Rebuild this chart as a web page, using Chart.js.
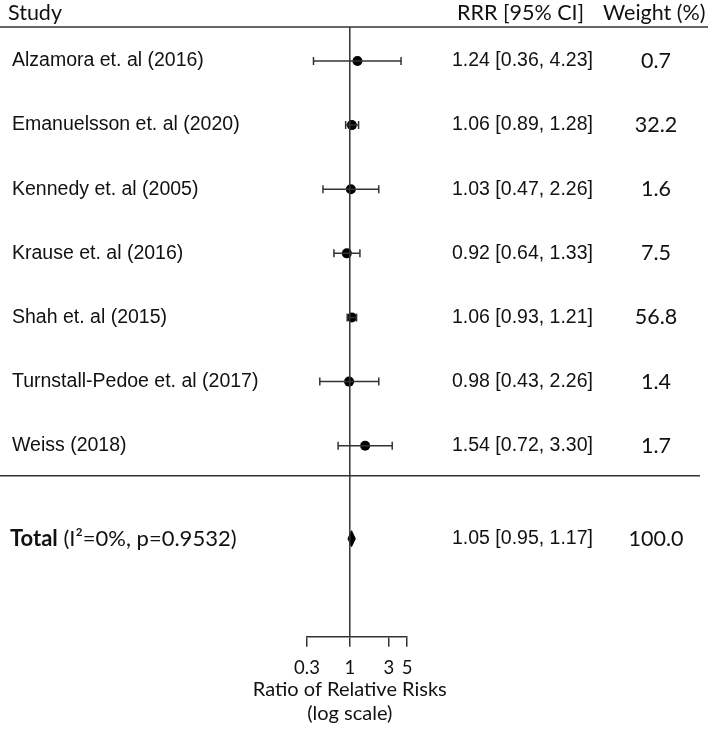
<!DOCTYPE html>
<html>
<head>
<meta charset="utf-8">
<script src="https://cdn.jsdelivr.net/npm/chart.js@4/dist/chart.umd.min.js"></script>
<style>
  html, body { margin: 0; padding: 0; background: #fff; }
  #wrap { width: 708px; height: 748px; position: relative; }
</style>
</head>
<body>
<div id="wrap"><canvas id="c"></canvas></div>
<script>
// ---- data ----
const studies = [
  'Alzamora et. al (2016)',
  'Emanuelsson et. al (2020)',
  'Kennedy et. al (2005)',
  'Krause et. al (2016)',
  'Shah et. al (2015)',
  'Turnstall-Pedoe et. al (2017)',
  'Weiss (2018)'
];
const rrr   = [1.24, 1.06, 1.03, 0.92, 1.06, 0.98, 1.54];
const lower = [0.36, 0.89, 0.47, 0.64, 0.93, 0.43, 0.72];
const upper = [4.23, 1.28, 2.26, 1.33, 1.21, 2.26, 3.30];
const weights = ['0.7', '32.2', '1.6', '7.5', '56.8', '1.4', '1.7'];

const totalLabelBold = 'Total';
const totalLabelRest = ' (I\u00B2=0%, p=0.9532)';
const totalRRR = 1.05;
const totalLower = 0.95;
const totalUpper = 1.17;
const totalWeight = '100.0';

const tickValues = [0.3, 1, 3, 5];
const tickLabels = ['0.3', '1', '3', '5'];

const headerStudy = 'Study';
const headerRRR = 'RRR [95% CI]';
const headerWeight = 'Weight (%)';
const axisTitle = ['Ratio of Relative Risks', '(log scale)'];

// ---- layout constants ----
const ROW_MIN = 0.47, ROW_MAX = 9.98;
const TOTAL_ROW = 8.45;
const SEPARATOR_ROW = 7.47;
const DIAMOND_HALF = 0.125;
const LINE_COLOR = '#333333';
const TEXT_COLOR = '#111111';
const ARIAL = '"Liberation Sans", Arial, sans-serif';
const CAL = 'Lato, "Open Sans", sans-serif';

const fmt = (e, l, h) => `${e.toFixed(2)} [${l.toFixed(2)}, ${h.toFixed(2)}]`;

// ---- datasets ----
const datasets = [];
// reference line at RRR = 1
datasets.push({
  type: 'scatter', showLine: true,
  data: [{x: 1, y: ROW_MIN}, {x: 1, y: ROW_MAX}],
  borderColor: LINE_COLOR, borderWidth: 1.5, pointRadius: 0
});
// confidence intervals with caps
studies.forEach((s, i) => {
  datasets.push({
    type: 'scatter', showLine: true,
    data: [{x: lower[i], y: i + 1}, {x: upper[i], y: i + 1}],
    borderColor: LINE_COLOR, borderWidth: 1.5,
    pointStyle: 'line', pointRotation: 90, pointRadius: 4,
    pointBorderColor: LINE_COLOR, pointBorderWidth: 1.5
  });
});
// point estimates
datasets.push({
  type: 'scatter',
  data: rrr.map((v, i) => ({x: v, y: i + 1})),
  pointStyle: 'circle', pointRadius: 5,
  backgroundColor: '#000', borderColor: '#000', borderWidth: 0
});
// pooled diamond
datasets.push({
  type: 'scatter', showLine: true, fill: 'shape',
  data: [
    {x: totalLower, y: TOTAL_ROW},
    {x: totalRRR, y: TOTAL_ROW - DIAMOND_HALF},
    {x: totalUpper, y: TOTAL_ROW},
    {x: totalRRR, y: TOTAL_ROW + DIAMOND_HALF},
    {x: totalLower, y: TOTAL_ROW}
  ],
  borderColor: '#000', backgroundColor: '#000', borderWidth: 1, pointRadius: 0, tension: 0
});

// ---- text / table plugin ----
const tablePlugin = {
  id: 'table',
  afterDraw(chart) {
    const ctx = chart.ctx;
    const ys = chart.scales.y, xs = chart.scales.x;
    const W = chart.width;
    ctx.save();
    // horizontal rules
    ctx.strokeStyle = LINE_COLOR;
    ctx.lineWidth = 1.5;
    const topY = chart.chartArea.top;
    ctx.beginPath(); ctx.moveTo(0, topY); ctx.lineTo(W, topY); ctx.stroke();
    const sepY = ys.getPixelForValue(SEPARATOR_ROW);
    ctx.beginPath(); ctx.moveTo(0, sepY); ctx.lineTo(W - 8, sepY); ctx.stroke();

    ctx.fillStyle = TEXT_COLOR;
    ctx.textBaseline = 'middle';
    // headers
    ctx.font = `21.5px ${CAL}`;
    ctx.textAlign = 'left';
    ctx.fillText(headerStudy, 8, 13);
    ctx.fillText(headerRRR, 457, 13);
    ctx.fillText(headerWeight, 603, 13);

    // rows
    studies.forEach((s, i) => {
      const y = ys.getPixelForValue(i + 1);
      ctx.font = `19.5px ${ARIAL}`;
      ctx.textAlign = 'left';
      ctx.fillText(s, 12, y);
      ctx.fillText(fmt(rrr[i], lower[i], upper[i]), 452, y);
      ctx.font = `21.5px ${CAL}`;
      ctx.textAlign = 'center';
      ctx.fillText(weights[i], 656, y);
    });

    // total row
    const ty = ys.getPixelForValue(TOTAL_ROW);
    ctx.textAlign = 'left';
    ctx.font = `bold 22px ${CAL}`;
    ctx.fillText(totalLabelBold, 10, ty);
    const bw = ctx.measureText(totalLabelBold).width;
    ctx.font = `22px ${CAL}`;
    ctx.fillText(totalLabelRest, 10 + bw, ty);
    ctx.font = `19.5px ${ARIAL}`;
    ctx.fillText(fmt(totalRRR, totalLower, totalUpper), 452, ty);
    ctx.font = `21.5px ${CAL}`;
    ctx.textAlign = 'center';
    ctx.fillText(totalWeight, 656, ty);

    // axis title
    const cx = xs.getPixelForValue(1);
    ctx.font = `20px ${CAL}`;
    ctx.textAlign = 'center';
    ctx.fillText(axisTitle[0], cx, 690);
    ctx.fillText(axisTitle[1], cx, 714);
    ctx.restore();
  }
};

new Chart(document.getElementById('c'), {
  type: 'scatter',
  data: { datasets },
  options: {
    responsive: true,
    maintainAspectRatio: false,
    animation: false,
    layout: { padding: { left: 307, right: 301, top: 27, bottom: 59 } },
    plugins: { legend: { display: false }, tooltip: { enabled: false } },
    scales: {
      x: {
        type: 'logarithmic',
        min: tickValues[0], max: tickValues[tickValues.length - 1],
        afterBuildTicks: (scale) => { scale.ticks = tickValues.map(v => ({ value: v })); },
        ticks: {
          autoSkip: false, maxRotation: 0, padding: 10,
          color: TEXT_COLOR,
          font: { family: CAL, size: 18.5 },
          callback: (v, i) => tickLabels[i]
        },
        grid: { display: true, drawOnChartArea: false, drawTicks: true, tickLength: 10, color: LINE_COLOR, lineWidth: 1.5 },
        border: { display: true, color: LINE_COLOR, width: 1.5 }
      },
      y: {
        type: 'linear', reverse: true, display: false,
        min: ROW_MIN, max: ROW_MAX
      }
    }
  },
  plugins: [tablePlugin]
});
</script>
</body>
</html>
